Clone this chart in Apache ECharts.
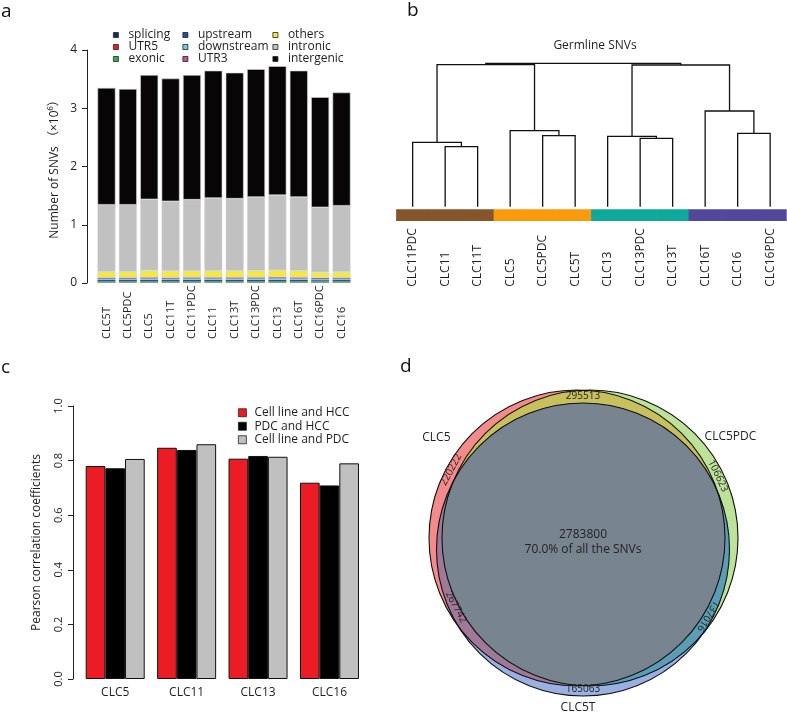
<!DOCTYPE html>
<html><head><meta charset="utf-8">
<script src="https://cdn.jsdelivr.net/npm/echarts@6/dist/echarts.min.js"></script>
<style>html,body{margin:0;padding:0;background:#fff}#c{width:787px;height:714px}</style>
</head><body><div id="c"></div>
<script>
// ---------- Panel a : SNV annotation (x10^6) ----------
const samplesA = ['CLC5T','CLC5PDC','CLC5','CLC11T','CLC11PDC','CLC11','CLC13T','CLC13PDC','CLC13','CLC16T','CLC16PDC','CLC16'];
const splicing   = [0.003,0.003,0.003,0.003,0.003,0.003,0.003,0.003,0.003,0.003,0.003,0.003];
const utr5       = [0.006,0.006,0.006,0.006,0.006,0.006,0.006,0.006,0.006,0.006,0.006,0.006];
const exonic     = [0.022,0.022,0.023,0.022,0.023,0.023,0.023,0.023,0.024,0.023,0.021,0.022];
const upstream   = [0.020,0.020,0.021,0.020,0.021,0.021,0.021,0.021,0.022,0.021,0.019,0.020];
const downstream = [0.020,0.020,0.021,0.020,0.021,0.021,0.021,0.021,0.022,0.021,0.019,0.020];
const utr3       = [0.022,0.022,0.023,0.022,0.023,0.023,0.023,0.023,0.024,0.023,0.021,0.022];
const others     = [0.101,0.101,0.115,0.113,0.109,0.113,0.113,0.114,0.119,0.114,0.095,0.096];
const intronic   = [1.150,1.150,1.225,1.197,1.225,1.249,1.238,1.266,1.288,1.266,1.116,1.138];
const intergenic = [2.006,1.986,2.133,2.107,2.139,2.186,2.162,2.193,2.214,2.168,1.890,1.943];
const yTicksA = [0,1,2,3,4];

// ---------- Panel b : dendrogram ----------
const leavesB = ['CLC11PDC','CLC11','CLC11T','CLC5','CLC5PDC','CLC5T','CLC13','CLC13PDC','CLC13T','CLC16T','CLC16','CLC16PDC'];
const leafGroupB = ['CLC11','CLC11','CLC11','CLC5','CLC5','CLC5','CLC13','CLC13','CLC13','CLC16','CLC16','CLC16'];
// merges: [left, right, height]; negative = leaf (1-based), positive = earlier merge (1-based)
const mergesB = [[-2,-3,60],[-1,1,64.4],[-5,-6,71],[-4,3,76],[2,4,142],
                 [-8,-9,68.4],[-7,6,70.4],[-11,-12,73.4],[-10,8,95.7],[7,9,141.7],[5,10,143.4]];

// ---------- Panel c : Pearson correlation ----------
const groupsC = ['CLC5','CLC11','CLC13','CLC16'];
const cellHCC = [0.780,0.847,0.807,0.719];
const pdcHCC  = [0.772,0.839,0.817,0.709];
const cellPDC = [0.806,0.860,0.814,0.790];
const yTicksC = [0,0.2,0.4,0.6,0.8,1.0];

// ---------- Panel d : Venn counts ----------
const vennSets = ['CLC5','CLC5PDC','CLC5T'];
const vennRegions = ['A','B','C','AB','AC','BC','ABC'];
const vennCounts  = [220222,106623,165063,295513,267742,137016,2783800];

// ================= layout / style =================
const FONT = '"Open Sans","Noto Sans CJK SC",sans-serif';
const TXT = '#1e1e1e';
const colA = {splicing:'#1d2b5c',UTR5:'#ed1c24',exonic:'#2fb24a',upstream:'#1e4fa3',downstream:'#6fcfe0',UTR3:'#c24fa6',others:'#f4ea3a',intronic:'#c1c1c1',intergenic:'#070505'};
const smallA = ['splicing','UTR5','exonic','upstream','downstream','UTR3'];
const groupCol = {CLC11:'#87552b',CLC5:'#f99b0c',CLC13:'#0fa99c',CLC16:'#52479b'};
const vennFill = {A:'#f48a8a',B:'#bde39a',C:'#9bb0e2',AB:'#c8c05c',AC:'#a07898',BC:'#5b9db4',ABC:'#788591'};
// circle geometry (panel-d axis units = px, centre of panel at 0,0, y up)
const vennGeom = {A:{x:-6,y:2,r:148}, B:{x:7,y:2,r:148}, C:{x:0,y:-9.5,r:146.5}};
const vennLabelPos = {A:[152,149.4,62], B:[25.4,149.4,-64.6], C:[-90,149.5,0], AB:[90,143.5,0], AC:[207.8,143.6,-62], BC:[-31.3,146.3,-121.3], ABC:[90,5,0]};
const setLabelPos = [[145,179],[35,180],[-91.7,168]];

// ---------- derived ----------
const seriesA = [['splicing',splicing],['UTR5',utr5],['exonic',exonic],['upstream',upstream],['downstream',downstream],['UTR3',utr3],['others',others],['intronic',intronic],['intergenic',intergenic]];

// dendrogram segments
const nodeX = [], nodeH = [], segs = [];
mergesB.forEach((m, i) => {
  const ch = m.slice(0,2).map(c => c < 0 ? [-c-1, 0] : [nodeX[c-1], nodeH[c-1]]);
  nodeX[i] = (ch[0][0] + ch[1][0]) / 2; nodeH[i] = m[2];
  segs.push([ch[0][0], ch[0][1], ch[1][0], ch[1][1], m[2]]);
});

const chart = echarts.init(document.getElementById('c'), null, {renderer:'canvas'});

function legendBox(names, left, top, opts) {
  return Object.assign({
    data: names, orient: 'vertical', left: left, top: top, itemGap: 0,
    itemWidth: 5, itemHeight: 5, icon: 'rect', selectedMode: false, padding: 0,
    itemStyle: {borderColor: '#222', borderWidth: 0.8},
    textStyle: {fontSize: 12, color: TXT, lineHeight: 12, padding: [0,0,0,5], fontFamily: FONT}
  }, opts || {});
}

const total = vennCounts.reduce((a,b)=>a+b,0);

const option = {
  animation: false,
  backgroundColor: '#fff',
  textStyle: {fontFamily: FONT, color: TXT},
  title: [{text: 'Germline SNVs', left: 590, top: 35, textAlign: 'center',
           textStyle: {fontSize: 12, fontWeight: 'normal', color: TXT, fontFamily: FONT}}],
  graphic: [
    {type:'text', left: 1, top: 2, style:{text:'a', fontSize: 19, fill: '#111', fontFamily: FONT}},
    {type:'text', left: 407, top: 1, style:{text:'b', fontSize: 19, fill: '#111', fontFamily: FONT}},
    {type:'text', left: 1, top: 358, style:{text:'c', fontSize: 19, fill: '#111', fontFamily: FONT}},
    {type:'text', left: 400, top: 357, style:{text:'d', fontSize: 19, fill: '#111', fontFamily: FONT}}
  ],
  legend: [
    legendBox(['splicing','UTR5','exonic'], 113, 29),
    legendBox(['upstream','downstream','UTR3'], 182.5, 29),
    legendBox(['others','intronic','intergenic'], 272.5, 29),
    legendBox(['Cell line and HCC','PDC and HCC','Cell line and PDC'], 238, 406,
      {itemWidth: 8, itemHeight: 8, textStyle:{fontSize: 12, color: TXT, lineHeight: 13.5, padding:[0,0,0,3], fontFamily: FONT}})
  ],
  grid: [
    {left: 95.8, top: 50, width: 256.4, height: 233, outerBoundsMode: 'none'},
    {left: 396.4, top: 61.7, width: 390, height: 160, outerBoundsMode: 'none'},
    {left: 79.5, top: 406, width: 285.7, height: 273, outerBoundsMode: 'none'},
    {left: 390, top: 330, width: 397, height: 384, outerBoundsMode: 'none'}
  ],
  xAxis: [
    {type:'category', gridIndex:0, data: samplesA, axisLine:{show:false}, axisTick:{show:false},
     axisLabel:{interval:0, rotate:90, align:'left', verticalAlign:'middle', margin:56, fontSize:11, color:TXT}},
    {type:'category', gridIndex:1, data: leavesB, axisLine:{show:false}, axisTick:{show:false},
     axisLabel:{interval:0, rotate:90, align:'left', verticalAlign:'middle', margin:65, fontSize:12, color:TXT}},
    {type:'category', gridIndex:2, data: groupsC, axisLine:{show:false}, axisTick:{show:false},
     axisLabel:{interval:0, margin:8, fontSize:12, color:TXT}},
    {type:'value', gridIndex:3, min:-193, max:204, show:false}
  ],
  yAxis: [
    {type:'value', gridIndex:0, min:yTicksA[0], max:yTicksA[yTicksA.length-1], interval:1, offset:8.8,
     name:'Number of SNVs （×10⁶）', nameLocation:'middle', nameGap:26,
     nameTextStyle:{fontSize:12, color:TXT, fontFamily: FONT},
     axisLine:{show:true, lineStyle:{color:'#222', width:1}},
     axisTick:{show:true, length:5, lineStyle:{color:'#222'}},
     axisLabel:{fontSize:12, color:TXT, margin:10}, splitLine:{show:false}},
    {type:'value', gridIndex:1, min:-15, max:145, show:false},
    {type:'value', gridIndex:2, min:yTicksC[0], max:yTicksC[yTicksC.length-1], interval:0.2, offset:6.5,
     name:'Pearson correlation coefficients', nameLocation:'middle', nameGap:30,
     nameTextStyle:{fontSize:12, color:TXT, fontFamily: FONT},
     axisLine:{show:true, lineStyle:{color:'#222', width:1}},
     axisTick:{show:true, length:5, lineStyle:{color:'#222'}},
     axisLabel:{fontSize:11, color:TXT, margin:9, rotate:90, formatter: v => v.toFixed(1)}, splitLine:{show:false}},
    {type:'value', gridIndex:3, min:-174, max:210, show:false}
  ],
  series: []
};

// Panel a stacked bars
seriesA.forEach(([name, vals]) => {
  const small = smallA.indexOf(name) >= 0;
  option.series.push({
    type:'bar', name: name, stack:'a', xAxisIndex:0, yAxisIndex:0, data: vals,
    barCategoryGap:'16%',
    itemStyle: small ? {color: colA[name], borderWidth:0} : {color: colA[name], borderColor:'#d4d4d4', borderWidth:0.6}
  });
});

// Panel b dendrogram
option.series.push({
  type:'custom', name:'dendro', xAxisIndex:1, yAxisIndex:1, data: segs.map((s,i)=>[0, s[4]]),
  renderItem: function(params, api) {
    const s = segs[params.dataIndex];
    const x0 = api.coord([0,0])[0], bw = api.coord([1,0])[0] - x0;
    const px = v => x0 + v*bw, py = h => api.coord([0,h])[1];
    return {type:'polyline', shape:{points:[[px(s[0]),py(s[1])],[px(s[0]),py(s[4])],[px(s[2]),py(s[4])],[px(s[2]),py(s[3])]]},
            style:{stroke:'#111', lineWidth:1.3, fill:null}};
  }
});
option.series.push({
  type:'custom', name:'groupbar', xAxisIndex:1, yAxisIndex:1, data: leavesB.map((l,i)=>[i,-8]),
  renderItem: function(params, api) {
    const i = params.dataIndex;
    const c = api.coord([i, -2.6]), c2 = api.coord([i, -14.4]);
    const bw = api.coord([1,0])[0] - api.coord([0,0])[0];
    return {type:'rect', shape:{x:c[0]-bw/2-0.3, y:c[1], width:bw+0.6, height:c2[1]-c[1]},
            style:{fill: groupCol[leafGroupB[i]]}};
  }
});

// Panel c grouped bars
[['Cell line and HCC', cellHCC, '#ec1c24'], ['PDC and HCC', pdcHCC, '#000000'], ['Cell line and PDC', cellPDC, '#c0c0c0']]
 .forEach(([name, vals, col]) => {
  option.series.push({type:'bar', name:name, xAxisIndex:2, yAxisIndex:2, data: vals,
    barGap:'0%', barCategoryGap:'17.4%', itemStyle:{color: col, borderColor:'#111', borderWidth:1}});
});

// Panel d Venn
option.series.push({
  type:'custom', name:'venn', xAxisIndex:3, yAxisIndex:3, data:[[0,0]],
  renderItem: function(params, api) {
    const circ = {};
    ['A','B','C'].forEach(k => {
      const g = vennGeom[k]; const c = api.coord([g.x, g.y]);
      circ[k] = {cx:c[0], cy:c[1], r: api.size([g.r, 0])[0]};
    });
    const inside = (p, c) => Math.hypot(p[0]-c.cx, p[1]-c.cy) <= c.r + 1e-6;
    const N = 1440;
    function region(keys) {
      const pts = [];
      keys.forEach(k => {
        const c = circ[k];
        for (let j = 0; j < N; j++) {
          const t = 2*Math.PI*j/N; const p = [c.cx + c.r*Math.cos(t), c.cy + c.r*Math.sin(t)];
          if (keys.every(o => o === k || inside(p, circ[o]))) pts.push(p);
        }
      });
      const mx = pts.reduce((s,p)=>s+p[0],0)/pts.length, my = pts.reduce((s,p)=>s+p[1],0)/pts.length;
      pts.sort((p,q)=>Math.atan2(p[1]-my,p[0]-mx)-Math.atan2(q[1]-my,q[0]-mx));
      return pts;
    }
    const ch = [];
    ['A','B','C'].forEach(k => ch.push({type:'circle', shape:{cx:circ[k].cx, cy:circ[k].cy, r:circ[k].r}, style:{fill:vennFill[k]}}));
    [['A','B'],['A','C'],['B','C'],['A','B','C']].forEach(keys => {
      ch.push({type:'polygon', shape:{points: region(keys)}, style:{fill: vennFill[keys.join('')]}});
    });
    ['A','B','C'].forEach(k => ch.push({type:'circle', shape:{cx:circ[k].cx, cy:circ[k].cy, r:circ[k].r}, style:{fill:null, stroke:'#111', lineWidth:1.1}}));
    // region counts
    vennRegions.forEach((rk, i) => {
      if (rk === 'ABC') return;
      const [ang, rad, rot] = vennLabelPos[rk];
      const a = ang*Math.PI/180; const p = api.coord([rad*Math.cos(a), rad*Math.sin(a)]);
      ch.push({type:'text', x:p[0], y:p[1], rotation: rot*Math.PI/180,
        style:{text: String(vennCounts[i]), fontSize:10, fill:'#222', fontFamily: FONT, align:'center', verticalAlign:'middle'}});
    });
    const cp = api.coord([0, 0]);
    const abc = vennCounts[vennRegions.indexOf('ABC')];
    ch.push({type:'text', x:cp[0], y:cp[1]-5, style:{text: String(abc), fontSize:12, fill:'#222', fontFamily: FONT, align:'center', verticalAlign:'middle'}});
    ch.push({type:'text', x:cp[0], y:cp[1]+10, style:{text: (abc/total*100).toFixed(1) + '% of all the SNVs', fontSize:12, fill:'#222', fontFamily: FONT, align:'center', verticalAlign:'middle'}});
    vennSets.forEach((nm, i) => {
      const [ang, rad] = setLabelPos[i]; const a = ang*Math.PI/180;
      const p = api.coord([rad*Math.cos(a), rad*Math.sin(a)]);
      ch.push({type:'text', x:p[0], y:p[1], style:{text:nm, fontSize:12, fill:'#222', fontFamily: FONT, align:'center', verticalAlign:'middle'}});
    });
    return {type:'group', children: ch};
  }
});

chart.setOption(option);
</script>
</body></html>
